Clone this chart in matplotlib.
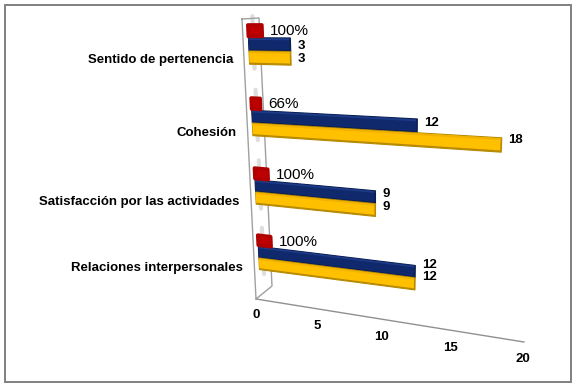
import matplotlib
matplotlib.use('Agg')
import matplotlib.pyplot as plt
from matplotlib.patches import Rectangle
from matplotlib.transforms import Transform
import numpy as np

categorias = ['Sentido de pertenencia', 'Cohesión', 'Satisfacción por las actividades', 'Relaciones interpersonales']
serie_azul = [3, 12, 9, 12]
serie_amarilla = [3, 18, 9, 12]
serie_roja = [1.0, 0.66, 1.0, 1.0]
etiquetas_rojas = ['100%', '66%', '100%', '100%']
ticks = [0, 5, 10, 15, 20]

plt.rcParams['font.family'] = ['Liberation Sans', 'DejaVu Sans']


# (valor, fila) -> pixeles, imita la perspectiva del grafico 3D
class Perspectiva(Transform):
    input_dims = 2
    output_dims = 2
    has_inverse = False

    def transform_non_affine(self, values):
        values = np.asarray(values, dtype=float)
        v = values[:, 0]
        d = values[:, 1]
        escala = 13.86 - 0.36 * d
        pendiente = 0.015 + 0.05 * d - 0.004 * d * d
        x = 249 + 3.3 * d + v * escala + 0.02 * v * v
        y = 51 + 73.5 * d - 1.5 * d * d + v * escala * pendiente
        return np.column_stack([x, y])


fig = plt.figure(figsize=(5.78, 3.86), dpi=100)
ax = fig.add_axes([0, 0, 1, 1])
ax.set_axis_off()
trans = Perspectiva() + ax.transData
proj = Perspectiva()

# marco exterior
ax.add_patch(Rectangle((5, 5), 566, 377, fill=False, ec='#808080', lw=1.4))

# paredes y suelo
ax.plot([242, 259, 272, 256, 242], [19, 18, 286, 299, 19], color='#a0a0a0', lw=1)
ax.plot([256, 524], [299, 342], color='#909090', lw=1)

alto = 0.18


def barra(fila, inicio, valor, base, c_sombra, c_main, c_luz):
    ax.barh(fila + base + alto / 2, valor, height=alto, left=inicio, color=c_sombra, edgecolor=c_sombra,
            lw=0.8, transform=trans, zorder=3, joinstyle='round')
    ax.barh(fila + base + alto * 0.46, valor - 0.08, height=alto * 0.84, left=inicio, color=c_main, lw=0,
            transform=trans, zorder=4)
    ax.barh(fila + base + alto * 0.1, valor - 0.08, height=alto * 0.14, left=inicio, color=c_luz, lw=0,
            transform=trans, zorder=5)


for i in range(len(categorias)):
    # sombras grises detras de las barras
    xs, ys = proj.transform(np.array([[0.35, i - 0.47], [0.35, i + 0.24]])).T
    ax.plot(xs, ys, color='#d0d0d0', lw=3, alpha=0.7, zorder=1, solid_capstyle='round')

    barra(i, 0, serie_azul[i], -alto, '#0a1f52', '#10296c', '#1c3a85')
    barra(i, 0, serie_amarilla[i], 0, '#b88a00', '#ffc000', '#f2b200')

    ax.barh(i - 1.5 * alto - 0.005, serie_roja[i], height=alto * 0.85, left=0, color='#c00000',
            edgecolor='#b00000', lw=2.6, transform=trans, zorder=6, joinstyle='round')

    ax.annotate(categorias[i], xy=(0, i), xycoords=trans, xytext=(-16, -9.5), textcoords='offset pixels',
                ha='right', va='center', fontsize=9.5, fontweight='bold', color='black')

    # etiquetas de valor
    for valor, fila in [(serie_azul[i], i - alto / 2), (serie_amarilla[i], i + alto / 2)]:
        fin = proj.transform(np.array([[valor, fila]]))[0]
        ini = proj.transform(np.array([[0, fila]]))[0]
        subida = fin[1] - ini[1]
        ax.text(fin[0] + 7, fin[1] + 1 - 0.38 * subida, str(valor), ha='left', va='center', fontsize=9.5,
                fontweight='bold', color='black', zorder=7)

    ax.annotate(etiquetas_rojas[i], xy=(serie_roja[i], i - 1.5 * alto), xycoords=trans, xytext=(8, 0),
                textcoords='offset pixels', ha='left', va='center', fontsize=11, color='black', zorder=7)

# etiquetas del eje de valores
for t in ticks:
    ax.text(256 + 11.82 * t + 0.0767 * t * t, 315 + 2.2 * t, str(t), ha='center', va='center', fontsize=9.5,
            fontweight='bold', color='black')

ax.set_xlim(0, 578)
ax.set_ylim(386, 0)
fig.savefig('out.png', dpi=100)
